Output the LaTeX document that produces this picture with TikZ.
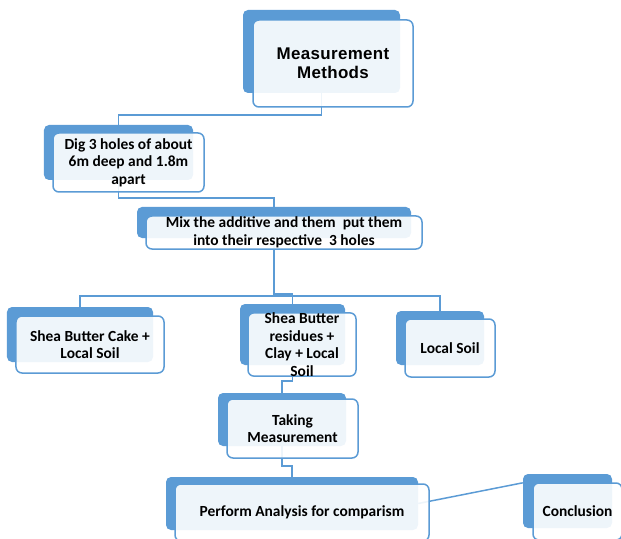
\documentclass[tikz,border=0pt]{standalone}
\usepackage{fontspec}
\setmainfont{Carlito}
\newfontfamily\titlefont[LetterSpace=2]{Liberation Sans}
\usepackage{tikz}
\usetikzlibrary{positioning, backgrounds}
\definecolor{panelblue}{HTML}{5B9BD5}
\tikzstyle{line}  = [draw=panelblue, line width=1.5bp]
\tikzstyle{panel} = [rectangle, fill=panelblue, rounded corners=5bp, inner sep=0pt]
\tikzstyle{card}  = [rectangle, draw=panelblue, line width=1.5bp, fill=white, fill opacity=0.9, text opacity=1, rounded corners=6bp, inner sep=0pt, font=\bfseries\fontsize{15.5}{17.5}\selectfont]
\tikzset{every node/.style={align=center}}

\begin{document}
\begin{tikzpicture}[x=1bp, y=-1bp]
    \clip (0, 0) rectangle (621, 539);

    % title
    \node (mmb) at (321.5, 51.5) [panel, minimum width=157bp, minimum height=83bp] {};
    \node (mm)  at (333, 63.5)   [card, minimum width=160bp, minimum height=87bp,
          font=\titlefont\bfseries\fontsize{17}{19}\selectfont]
          {Measurement\\Methods};

    % steps
    \node (digb) at (118.5, 152.5) [panel, minimum width=149bp, minimum height=55bp] {};
    \node (dig)  at (128.5, 162.5) [card, minimum width=151bp, minimum height=59bp]
          {Dig 3 holes of about\\6m deep and 1.8m\\apart};
    \node (mixb) at (274, 222.5) [panel, minimum width=274bp, minimum height=31bp] {};
    \node (mix)  at (284, 232.5) [card, minimum width=276bp, minimum height=33bp]
          {Mix the additive and them~ put them\\into their respective~ 3 holes};

    % the three holes
    \node (cakeb) at (80, 334.5) [panel, minimum width=146bp, minimum height=55bp] {};
    \node (cake)  at (90, 344.5) [card, minimum width=148bp, minimum height=57bp]
          {Shea Butter Cake +\\Local Soil};
    \node (resb)  at (292.5, 334.5) [panel, minimum width=105bp, minimum height=61bp] {};
    \node (res)   at (302, 344.5)   [card, minimum width=108bp, minimum height=63bp]
          {Shea Butter\\residues +\\Clay + Local\\Soil};
    \node (soilb) at (440, 338) [panel, minimum width=88bp, minimum height=54bp] {};
    \node (soil)  at (450, 348) [card, minimum width=90bp, minimum height=58bp]
          {Local Soil};

    % measuring and analysis
    \node (takeb) at (282, 419.5)   [panel, minimum width=128bp, minimum height=53bp] {};
    \node (take)  at (292.5, 428.5) [card, minimum width=131bp, minimum height=59bp]
          {Taking\\Measurement};
    \node (anab)  at (292, 503.5) [panel, minimum width=252bp, minimum height=53bp] {};
    \node (ana)   at (302, 512.5) [card, minimum width=254bp, minimum height=57bp]
          {Perform Analysis for comparism};
    \node (concb) at (567.5, 501)   [panel, minimum width=89bp, minimum height=54bp] {};
    \node (conc)  at (577.5, 511.5) [card, minimum width=89bp, minimum height=57bp]
          {Conclusion};

    \begin{scope}[on background layer]
        \draw [line] (mmb.south)   -- ++(0, 22) -| (digb.north);
        \draw [line] (digb.south)  -- ++(0, 18) -| (mixb.north);
        \draw [line] (mixb.south)  -- ++(0, 58) -| (cakeb.north);
        \draw [line] (mixb.south)  -- ++(0, 56) -| (resb.north);
        \draw [line] (mixb.south)  -- ++(0, 58) -| (soilb.north);
        \draw [line] (resb.south)  -- ++(0, 16) -| (takeb.north);
        \draw [line] (takeb.south) -- ++(0, 20) -| (anab.north);
        \draw [line] (anab.east)   -- ([yshift=-9bp]concb.north west);
    \end{scope}
\end{tikzpicture}
\end{document}
